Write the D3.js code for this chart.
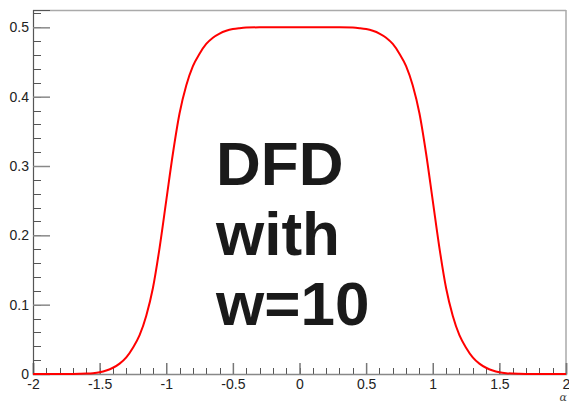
<!DOCTYPE html>
<html>
<head>
<meta charset="utf-8">
<script src="https://cdn.jsdelivr.net/npm/d3@7"></script>
<style>
html,body{margin:0;padding:0;background:#fff;}
svg{display:block;}
</style>
</head>
<body>
<svg id="chart" width="569" height="403"></svg>
<script>
// Data
const alpha = [-2.0,-1.9,-1.8,-1.7,-1.65,-1.6,-1.55,-1.5,-1.45,-1.4,-1.35,-1.3,-1.25,-1.2,-1.15,-1.1,-1.05,-1.0,-0.95,-0.9,-0.85,-0.8,-0.75,-0.7,-0.65,-0.6,-0.55,-0.5,-0.45,-0.4,-0.3,-0.2,-0.1,0.0,
  0.1,0.2,0.3,0.4,0.45,0.5,0.55,0.6,0.65,0.7,0.75,0.8,0.85,0.9,0.95,1.0,1.05,1.1,1.15,1.2,1.25,1.3,1.35,1.4,1.45,1.5,1.55,1.6,1.65,1.7,1.8,1.9,2.0];
const dfd = [0.0,0.0,0.0,0.0001,0.0003,0.0006,0.0012,0.0025,0.005,0.009,0.015,0.024,0.038,0.056,0.084,0.124,0.182,0.25,0.318,0.376,0.416,0.444,0.462,0.476,0.485,0.491,0.495,0.4975,0.4988,0.4996,0.5,0.5,0.5,0.5,
  0.5,0.5,0.5,0.4996,0.4988,0.4975,0.495,0.491,0.485,0.476,0.462,0.444,0.416,0.376,0.318,0.25,0.182,0.124,0.084,0.056,0.038,0.024,0.015,0.009,0.005,0.0025,0.0012,0.0006,0.0003,0.0001,0.0,0.0,0.0];
const xTicks = [-2,-1.5,-1,-0.5,0,0.5,1,1.5,2];
const xTickLabels = ["-2","-1.5","-1","-0.5","0","0.5","1","1.5","2"];
const yTicks = [0,0.1,0.2,0.3,0.4,0.5];
const yTickLabels = ["0","0.1","0.2","0.3","0.4","0.5"];
const xTitle = "α";
const noteLines = ["DFD","with","w=10"];

const svg = d3.select("#chart");
const L = 33, R = 566, T = 10, B = 374;
const x = d3.scaleLinear().domain([-2,2]).range([L,R]);
const y = d3.scaleLinear().domain([0,0.525]).range([B,T]);

// frame top/right
svg.append("line").attr("x1",L).attr("x2",R).attr("y1",T+0.5).attr("y2",T+0.5).attr("stroke","#aaa").attr("stroke-width",1.5);
svg.append("line").attr("x1",R).attr("x2",R).attr("y1",T).attr("y2",B).attr("stroke","#aaa").attr("stroke-width",1.5);

// minor ticks
const xMinor = d3.range(-20,21).map(d=>d/10);
const yMinor = d3.range(0,27).map(d=>d*0.02);
const g = svg.append("g");
g.selectAll(".xm").data(xMinor).enter().append("line")
  .attr("x1",d=>Math.round(x(d))+0.5).attr("x2",d=>Math.round(x(d))+0.5)
  .attr("y1",B).attr("y2",B-6).attr("stroke","#555");
g.selectAll(".ym").data(yMinor.filter(d=>d<=0.525)).enter().append("line")
  .attr("y1",d=>Math.round(y(d))+0.5).attr("y2",d=>Math.round(y(d))+0.5)
  .attr("x1",L).attr("x2",L+8).attr("stroke","#555");

// x axis via d3 axis
const xAxis = d3.axisBottom(x).tickValues(xTicks).tickFormat((d,i)=>xTickLabels[i]).tickSize(-11).tickPadding(5);
const gx = svg.append("g").attr("transform",`translate(0,${B})`).call(xAxis);
gx.select(".domain").attr("stroke","#888").attr("stroke-width",1.5);
gx.selectAll(".tick line").attr("stroke","#777").attr("stroke-width",1.5);
gx.selectAll(".tick text").attr("font-family","Liberation Sans, Arial, sans-serif").attr("font-size",14).attr("fill","#222");

const yAxis = d3.axisLeft(y).tickValues(yTicks).tickFormat((d,i)=>yTickLabels[i]).tickSize(-17).tickPadding(4);
const gy = svg.append("g").attr("transform",`translate(${L},0)`).call(yAxis);
gy.select(".domain").attr("stroke","#555").attr("stroke-width",1.2);
gy.selectAll(".tick line").attr("stroke","#888").attr("stroke-width",1.5);
gy.selectAll(".tick text").attr("font-family","Liberation Sans, Arial, sans-serif").attr("font-size",14).attr("fill","#222");

// axis title
svg.append("text").attr("x",567).attr("y",401).attr("text-anchor","end")
  .attr("font-family","DejaVu Serif, Liberation Serif, serif").attr("font-style","italic")
  .attr("font-size",11).attr("fill","#444").text(xTitle);

// curve
const pts = alpha.map((a,i)=>[a,dfd[i]]);
const line = d3.line().x(d=>x(d[0])).y(d=>y(d[1])).curve(d3.curveMonotoneX);
svg.append("path").datum(pts).attr("d",line).attr("fill","none").attr("stroke","#ff0000").attr("stroke-width",2);

// note text
svg.selectAll(".note").data(noteLines).enter().append("text")
  .attr("x",216).attr("y",(d,i)=>185+i*70)
  .attr("font-family","Liberation Sans, Arial, sans-serif").attr("font-weight","bold")
  .attr("font-size",62).attr("fill","#1a1a1a").text(d=>d);
</script>
</body>
</html>
